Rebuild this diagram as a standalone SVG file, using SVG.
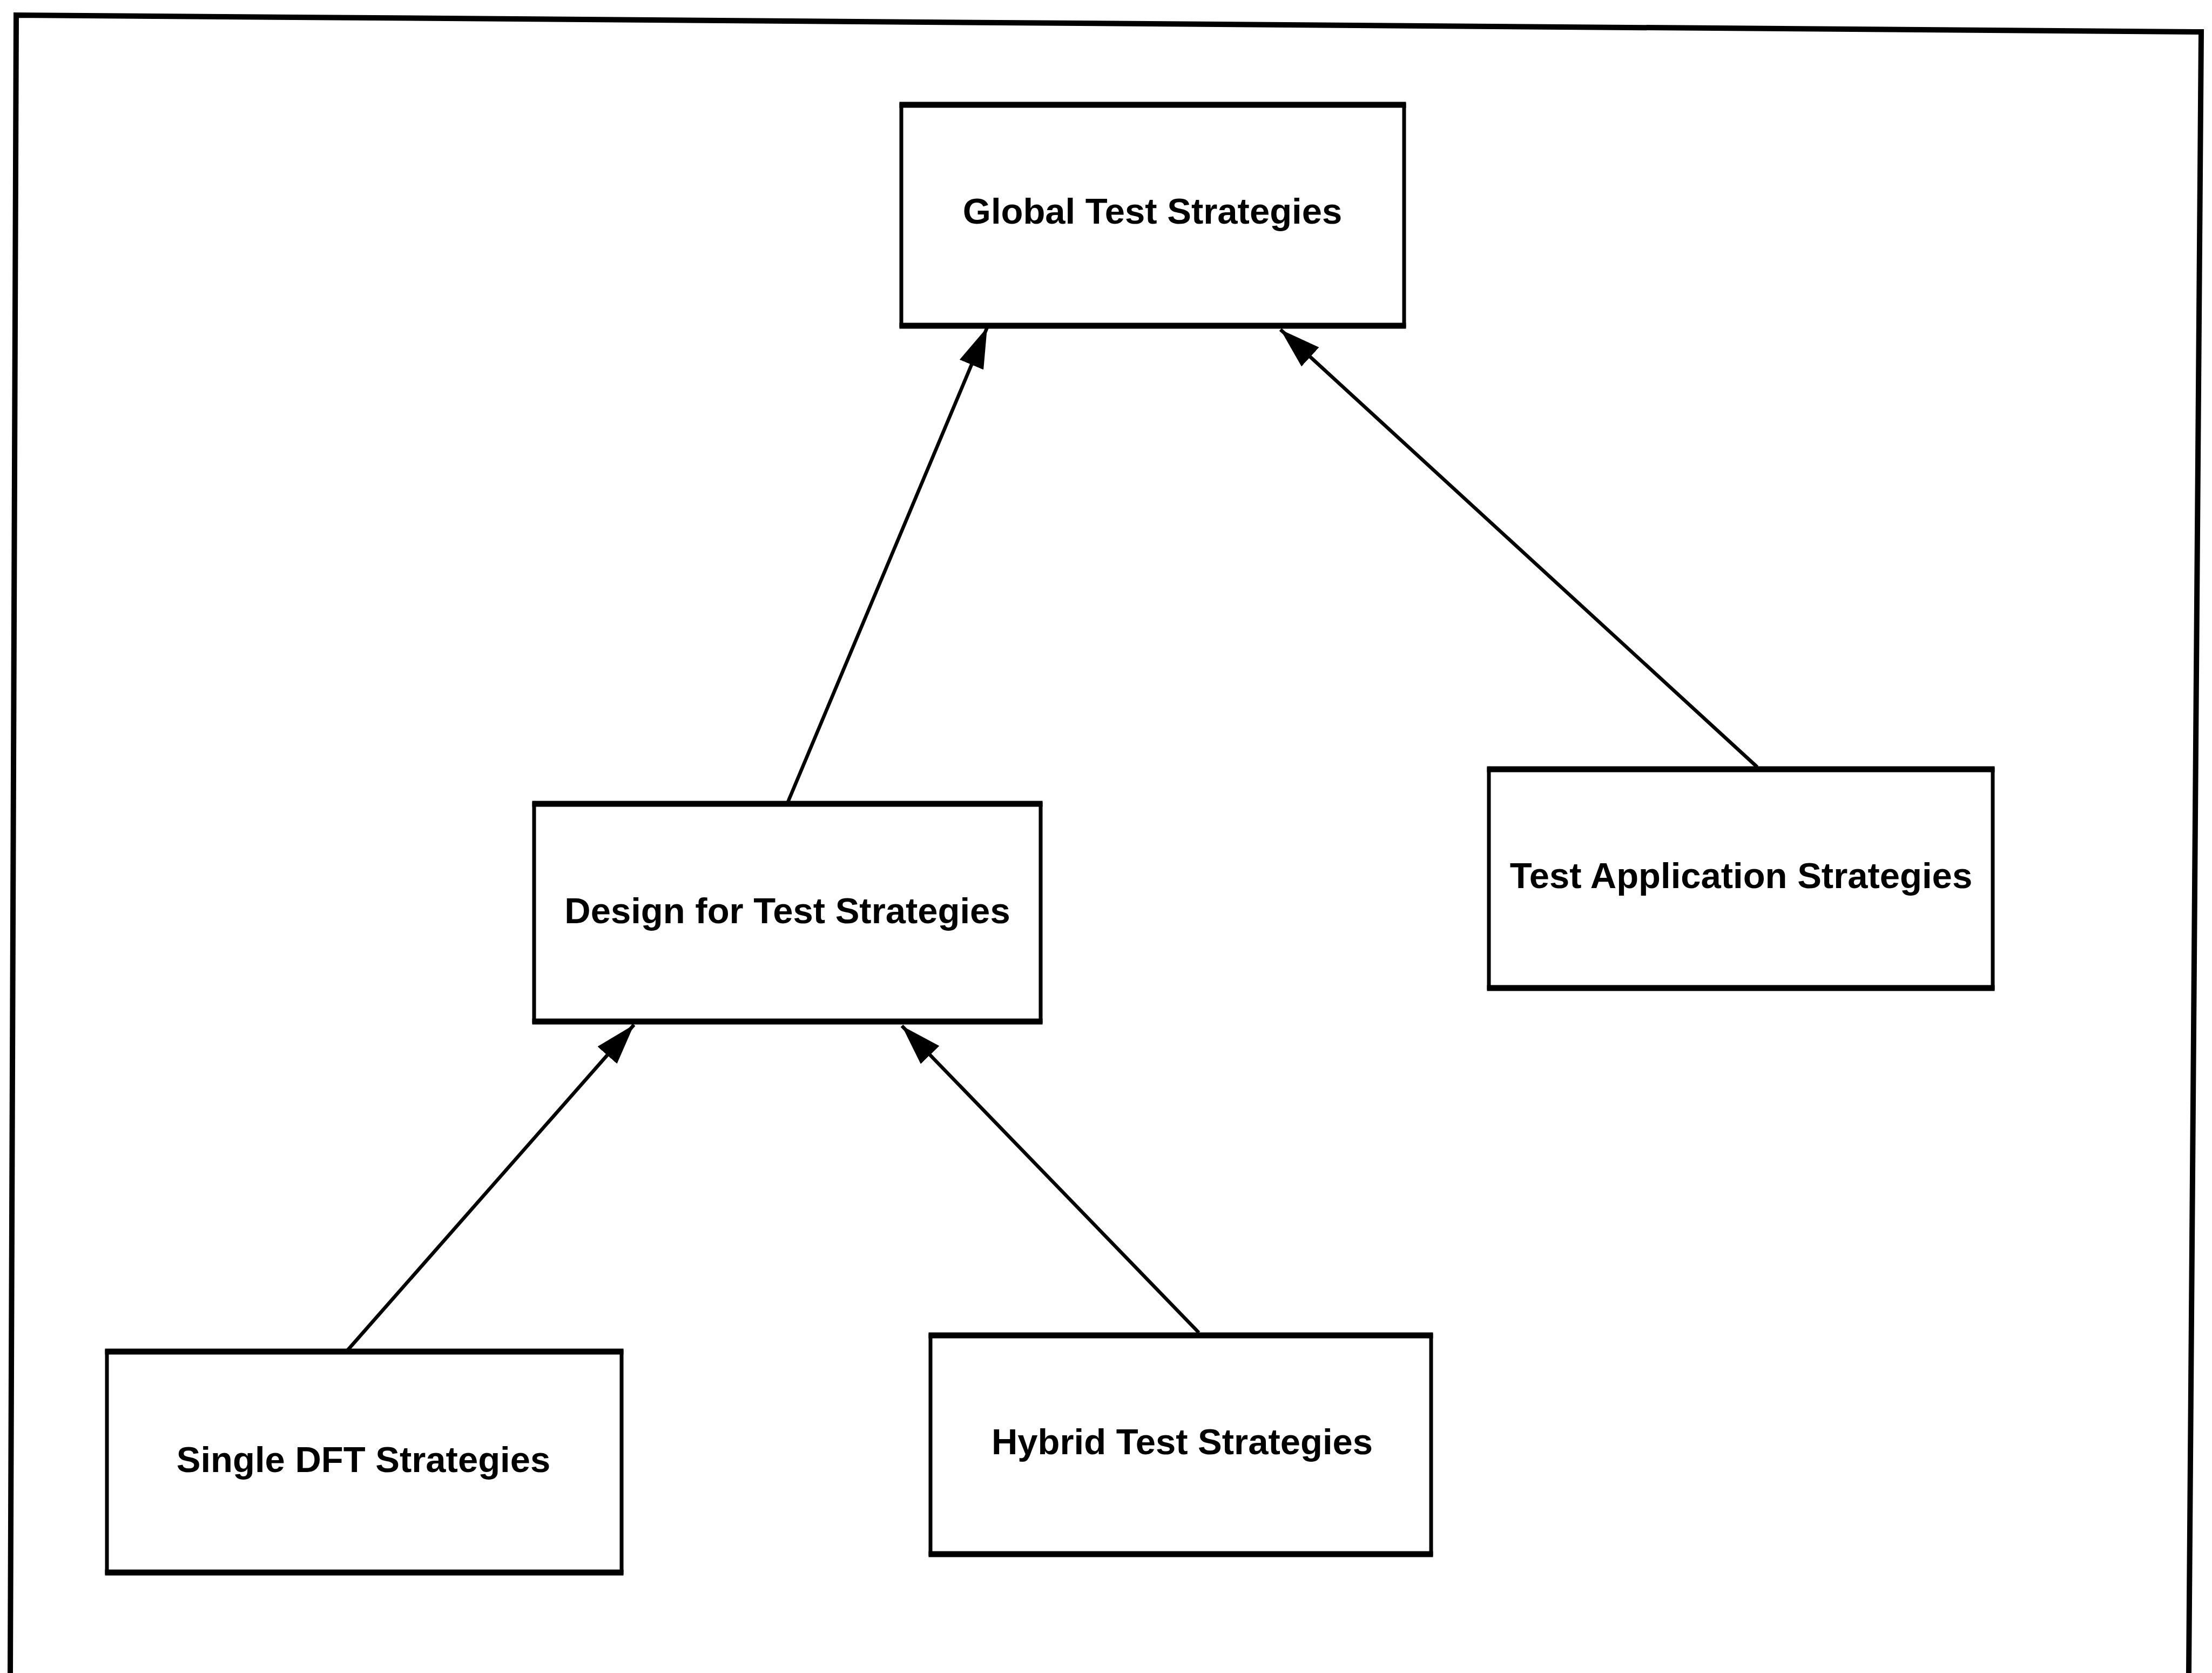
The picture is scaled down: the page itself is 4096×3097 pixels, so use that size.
<svg xmlns="http://www.w3.org/2000/svg" width="4096" height="3097" viewBox="0 0 4096 3097">
  <style>
    .frame { fill: none; stroke: #000; stroke-width: 10; stroke-linejoin: miter; }
    .box { fill: #fff; stroke: #000; stroke-width: 7; }
    .rule { fill: none; stroke: #000; stroke-width: 11; stroke-linecap: butt; }
    .label { font-family: "Liberation Sans", Arial, sans-serif; font-weight: bold; font-size: 67px; fill: #000; text-anchor: middle; }
    .edge { fill: none; stroke: #000; stroke-width: 6.5; marker-end: url(#arrow); }
  </style>
  <defs>
    <marker id="arrow" viewBox="0 0 75 48" markerWidth="75" markerHeight="48" markerUnits="userSpaceOnUse" refX="75" refY="24" orient="auto">
      <path d="M0,0 L75,24 L0,48 z" fill="#000"/>
    </marker>
  </defs>

  <rect width="4096" height="3097" fill="#fff"/>

  <!-- outer frame, open at the bottom -->
  <path class="frame" d="M19,3097 L30,28 L4076,59 L4053,3097"/>

  <!-- connectors: child strategy points up to its parent -->
  <g id="connectors">
    <path class="edge" d="M1458,1487 L1828,606"/>
    <path class="edge" d="M3254,1420 L2371,610"/>
    <path class="edge" d="M644,2499 L1174,1897"/>
    <path class="edge" d="M2220,2467 L1670,1899"/>
  </g>

  <!-- each box: outline, heavier top/bottom rules, centred label -->
  <g id="global-test-strategies">
    <rect class="box" x="1669" y="194" width="931" height="409"/>
    <path class="rule" d="M1665.5,194 H2603.5 M1665.5,603 H2603.5"/>
    <text class="label" x="2134" y="414">Global Test Strategies</text>
  </g>

  <g id="design-for-test-strategies">
    <rect class="box" x="989" y="1488" width="938" height="403"/>
    <path class="rule" d="M985.5,1488 H1930.5 M985.5,1891 H1930.5"/>
    <text class="label" x="1458" y="1709">Design for Test Strategies</text>
  </g>

  <g id="test-application-strategies">
    <rect class="box" x="2757" y="1424" width="933" height="405"/>
    <path class="rule" d="M2753.5,1424 H3693.5 M2753.5,1829 H3693.5"/>
    <text class="label" x="3224" y="1644">Test Application Strategies</text>
  </g>

  <g id="single-dft-strategies">
    <rect class="box" x="198" y="2502" width="953" height="409"/>
    <path class="rule" d="M194.5,2502 H1154.5 M194.5,2911 H1154.5"/>
    <text class="label" x="673" y="2725">Single DFT Strategies</text>
  </g>

  <g id="hybrid-test-strategies">
    <rect class="box" x="1723" y="2472" width="927" height="405"/>
    <path class="rule" d="M1719.5,2472 H2653.5 M1719.5,2877 H2653.5"/>
    <text class="label" x="2189" y="2692">Hybrid Test Strategies</text>
  </g>
</svg>
